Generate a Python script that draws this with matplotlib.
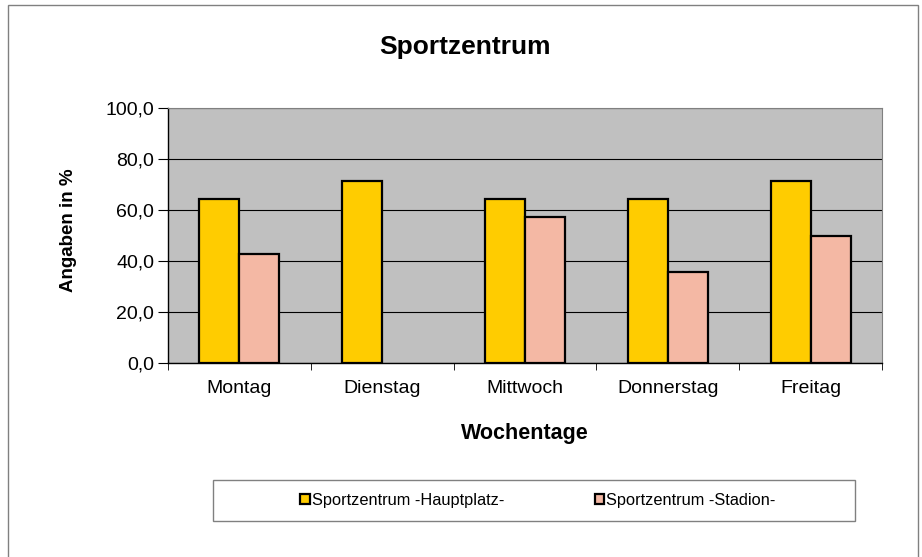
"""Sportzentrum - Auslastung nach Wochentagen."""
import numpy as np
import matplotlib

matplotlib.use("Agg")
import matplotlib.pyplot as plt  # noqa: E402
from matplotlib.patches import Rectangle  # noqa: E402
from matplotlib.ticker import FuncFormatter  # noqa: E402

plt.rcParams["font.family"] = ["Liberation Sans", "DejaVu Sans"]

days = ["Montag", "Dienstag", "Mittwoch", "Donnerstag", "Freitag"]
hauptplatz = [64.3, 71.4, 64.3, 64.3, 71.4]
stadion = [42.9, 0.0, 57.1, 35.7, 50.0]
series_names = ["Sportzentrum -Hauptplatz-", "Sportzentrum -Stadion-"]
yticks = [0, 20, 40, 60, 80, 100]

W, H = 922, 557
fig = plt.figure(figsize=(W / 100, H / 100), dpi=100)
fig.patches.append(Rectangle((8 / W, -0.1), 910 / W, 1.1 - 5 / H,
                             transform=fig.transFigure, fill=False,
                             edgecolor="#808080", linewidth=1.0))

ax = fig.add_axes([168 / W, 1 - 363 / H, 714 / W, 255 / H])
ax.set_facecolor("#c0c0c0")

x = np.arange(len(days))
bw = 0.28
b1 = ax.bar(x - bw / 2, hauptplatz, bw, color="#ffcc00", edgecolor="black",
            linewidth=1.6, label=series_names[0], zorder=3)
b2 = ax.bar(x + bw / 2, stadion, bw, color="#f4b8a4", edgecolor="black",
            linewidth=1.6, label=series_names[1], zorder=3)
# Excel zeichnet fuer 0-Werte keinen Balken
for bars, vals in ((b1, hauptplatz), (b2, stadion)):
    for p, v in zip(bars.patches, vals):
        if v == 0:
            p.set_visible(False)

ax.set_xlim(-0.5, len(days) - 0.5)
ax.set_ylim(0, 100)
ax.set_yticks(yticks)
ax.yaxis.set_major_formatter(FuncFormatter(lambda v, _: f"{v:.1f}".replace(".", ",")))
ax.grid(axis="y", color="black", linewidth=0.8, zorder=1)

ax.set_xticks(x)
ax.set_xticklabels(days)
ax.set_xticks(np.arange(-0.5, len(days)), minor=True)
ax.tick_params(axis="x", which="major", length=0, pad=12, labelsize=14)
ax.tick_params(axis="x", which="minor", length=5, color="black", direction="out")
ax.tick_params(axis="y", length=7, direction="out", labelsize=14, pad=3)

for s in ("top", "right"):
    ax.spines[s].set_color("#808080")
for s in ("left", "bottom"):
    ax.spines[s].set_color("black")
    ax.spines[s].set_linewidth(1.0)

ax.set_xlabel("Wochentage", fontsize=15.5, fontweight="bold", labelpad=19)
ax.set_ylabel("Angaben in %", fontsize=13.5, fontweight="bold")
ax.yaxis.set_label_coords((77 - 168) / 714, 0.52)
fig.text(0.5 + 8 / W / 2, 1 - 47 / H, "Sportzentrum", ha="center", va="center",
         fontsize=19, fontweight="bold")

fig.patches.append(Rectangle((213 / W, 1 - 521 / H), 642 / W, 41 / H,
                             transform=fig.transFigure, fill=False,
                             edgecolor="#808080", linewidth=1.0))
fig.legend(handles=[b1, b2], loc="center", bbox_to_anchor=(538 / W, 1 - 500 / H),
           ncol=2, frameon=False, fontsize=11.8, handlelength=0.6,
           handleheight=0.6, handletextpad=0.12, columnspacing=5.5)

fig.savefig("out.png", dpi=100)
